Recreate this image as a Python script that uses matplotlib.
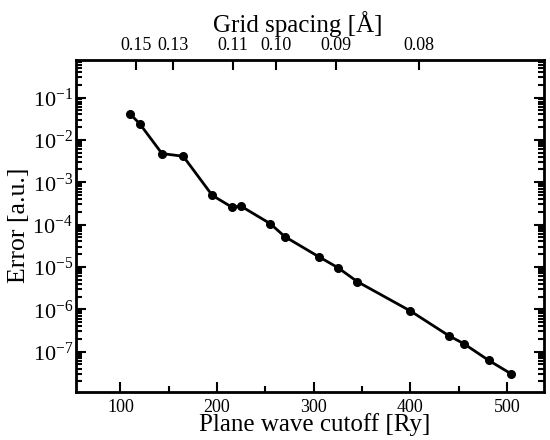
import matplotlib
matplotlib.use("Agg")
import matplotlib.pyplot as plt
import numpy as np
from matplotlib.ticker import NullLocator, MultipleLocator, FixedLocator, FuncFormatter

cutoff = [110, 120, 143, 165, 195, 215, 225, 255, 270, 305, 325, 345, 400, 440, 455, 481, 504]
error = [4.1e-2, 2.4e-2, 4.75e-3, 4.1e-3, 4.9e-4, 2.6e-4, 2.7e-4, 1.05e-4, 5.2e-5,
         1.75e-5, 9.6e-6, 4.5e-6, 9.1e-7, 2.35e-7, 1.55e-7, 6.2e-8, 3.0e-8]
grid_labels = ["0.15", "0.13", "0.11", "0.10", "0.09", "0.08"]
grid_spacing = [0.15, 0.13, 0.11, 0.10, 0.09, 0.08]
C = 2.614  # Ry * Å^2 conversion between cutoff and grid spacing

plt.rcParams['font.family'] = ['Liberation Serif', 'DejaVu Serif']
plt.rcParams['mathtext.fontset'] = 'custom'
plt.rcParams['mathtext.rm'] = 'Liberation Serif'
plt.rcParams['mathtext.it'] = 'Liberation Serif:italic'

fig = plt.figure(figsize=(5.5, 4.4), dpi=100)
ax = fig.add_axes([0.138, 0.11, 0.851, 0.754])

ax.plot(cutoff, error, color='black', lw=2, marker='o', ms=5.5)
ax.set_yscale('log')
ax.set_xlim(54, 538)
ax.set_ylim(1.14e-8, 0.775)

ax.xaxis.set_major_locator(MultipleLocator(100))
ax.xaxis.set_minor_locator(MultipleLocator(50))


def is_decade(v):
    lv = np.log10(v)
    return abs(lv - round(lv)) < 1e-6


def ylab(v, pos):
    if v > 0 and is_decade(v):
        return r'$\mathdefault{10^{%d}}$' % int(round(np.log10(v)))
    return ''


ytick_pos = [m * 10.0**e for e in range(-9, 1) for m in range(1, 10)]
ax.yaxis.set_major_locator(FixedLocator(ytick_pos))
ax.yaxis.set_major_formatter(FuncFormatter(ylab))
ax.yaxis.set_minor_locator(NullLocator())

ax.tick_params(which='both', direction='in', right=True, width=1.5)
ax.tick_params(which='major', length=7.5)
ax.tick_params(which='minor', length=4)
ax.tick_params(axis='x', labelsize=13, pad=5)
ax.tick_params(axis='y', labelsize=16, pad=2)
for s in ax.spines.values():
    s.set_linewidth(2)

ax.set_xlabel('Plane wave cutoff [Ry]', fontsize=18)
ax.xaxis.set_label_coords(0.51, -0.066)
ax.set_ylabel('Error [a.u.]', fontsize=18.5)
ax.yaxis.set_label_coords(-0.098, 0.5)

ax2 = ax.twiny()
ax2.set_xlim(ax.get_xlim())
ax2.set_xticks([C / h**2 for h in grid_spacing])
ax2.set_xticklabels(grid_labels)
ax2.xaxis.set_minor_locator(NullLocator())
ax2.tick_params(axis='x', which='major', direction='in', length=7, width=1.5,
                labelsize=13, pad=4)
ax2.set_xlabel('Grid spacing [Å]', fontsize=18)
ax2.xaxis.set_label_coords(0.474, 1.085)

# shorter marks for the intermediate (non-decade) y ticks
fig.canvas.draw()
for t in ax.yaxis.get_major_ticks():
    if not is_decade(t.get_loc()):
        t.tick1line.set_markersize(4)
        t.tick2line.set_markersize(4)

fig.savefig('out.png', dpi=100)
